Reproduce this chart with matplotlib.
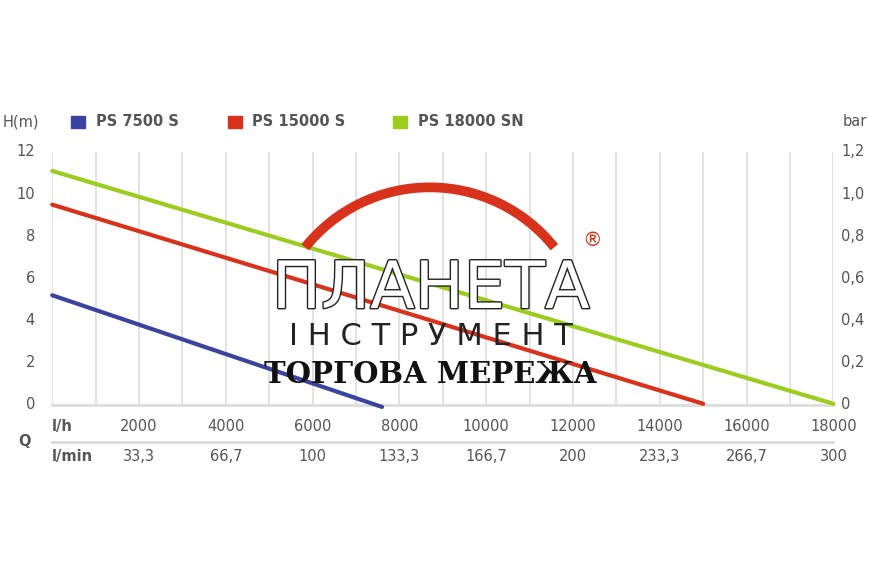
import matplotlib
matplotlib.use("Agg")
import matplotlib.pyplot as plt
import matplotlib.patheffects as pe
from matplotlib.patches import Arc

series = ["PS 7500 S", "PS 15000 S", "PS 18000 SN"]
colors = ["#3a44a0", "#d9321c", "#9acd1e"]
q_start = [0, 0, 0]
q_end = [7600, 15000, 18000]
h_start = [5.2, 9.5, 11.1]
h_end = [-0.1, 0.05, 0.05]
lh_ticks = [2000, 4000, 6000, 8000, 10000, 12000, 14000, 16000, 18000]
lmin_labels = ["33,3", "66,7", "100", "133,3", "166,7", "200", "233,3", "266,7", "300"]
h_ticks = [0, 2, 4, 6, 8, 10, 12]
bar_labels = ["0", "0,2", "0,4", "0,6", "0,8", "1,0", "1,2"]

fig = plt.figure(figsize=(8.7, 5.8), dpi=100)
ax = fig.add_axes([0.06, 0.302, 0.898, 0.436])
ax.set_xlim(0, 18000)
ax.set_ylim(0, 12)
for x in range(0, 18001, 1000):
    ax.axvline(x, color="#dddddd", lw=1.2, zorder=0)
ax.axhline(0, color="#dddddd", lw=2, zorder=0, clip_on=False)
for s in ax.spines.values():
    s.set_visible(False)
ax.set_xticks([]); ax.set_yticks([])
for i in range(3):
    ax.plot([q_start[i], q_end[i]], [h_start[i], h_end[i]], color=colors[i], lw=3,
            solid_capstyle="round", clip_on=False, zorder=3)

tc = "#555555"
for h, b in zip(h_ticks, bar_labels):
    ax.text(-0.022, h, str(h), transform=ax.get_yaxis_transform(), ha="right", va="center", fontsize=10.5, color=tc)
    ax.text(1.01, h, b, transform=ax.get_yaxis_transform(), ha="left", va="center", fontsize=10.5, color=tc)
fig.text(0.003, 0.79, "H(m)", ha="left", va="center", fontsize=10.5, color=tc)
fig.text(0.968, 0.79, "bar", ha="left", va="center", fontsize=10.5, color=tc)
xt = ax.get_xaxis_transform()
for x, l in zip(lh_ticks, lmin_labels):
    ax.text(x, -0.085, f"{x}", transform=xt, ha="center", va="center", fontsize=10.5, color=tc)
    ax.text(x, -0.205, l, transform=xt, ha="center", va="center", fontsize=10.5, color=tc)
ax.text(0, -0.085, "l/h", transform=xt, ha="left", va="center", fontsize=10.5, color=tc, fontweight="bold")
ax.text(0, -0.205, "l/min", transform=xt, ha="left", va="center", fontsize=10.5, color=tc, fontweight="bold")
ax.text(-0.035, -0.145, "Q", transform=ax.transAxes, ha="center", va="center", fontsize=10.5, color=tc, fontweight="bold")
ax.plot([0, 1], [-0.145, -0.145], transform=ax.transAxes, color="#dddddd", lw=2, clip_on=False)

# legend
lx = [0.082, 0.262, 0.452]
for i in range(3):
    fig.patches.append(plt.Rectangle((lx[i], 0.78), 0.016, 0.02, color=colors[i], transform=fig.transFigure))
    fig.text(lx[i] + 0.028, 0.79, series[i], ha="left", va="center", fontsize=10.5, color=tc, fontweight="bold")

# watermark
arc = Arc((0.494, 0.403), 0.366, 0.548, theta1=50, theta2=130, transform=fig.transFigure,
          color="#d9321c", lw=7, zorder=5)
fig.patches.append(arc)
fig.text(0.495, 0.50, "ПЛАНЕТА", ha="center", va="center", fontsize=47, color="white",
         path_effects=[pe.withStroke(linewidth=2, foreground="#222222")], zorder=6)
fig.text(0.495, 0.419, "І Н С Т Р У М Е Н Т", ha="center", va="center", fontsize=22, color="#222222", zorder=6)
fig.text(0.495, 0.355, "ТОРГОВА МЕРЕЖА", ha="center", va="center", fontsize=21, color="#111111",
         fontweight="bold", family="DejaVu Serif", zorder=6)
fig.text(0.68, 0.585, "®", ha="center", va="center", fontsize=14, color="#d9321c", zorder=6)

fig.savefig("out.png", dpi=100, facecolor="white")
